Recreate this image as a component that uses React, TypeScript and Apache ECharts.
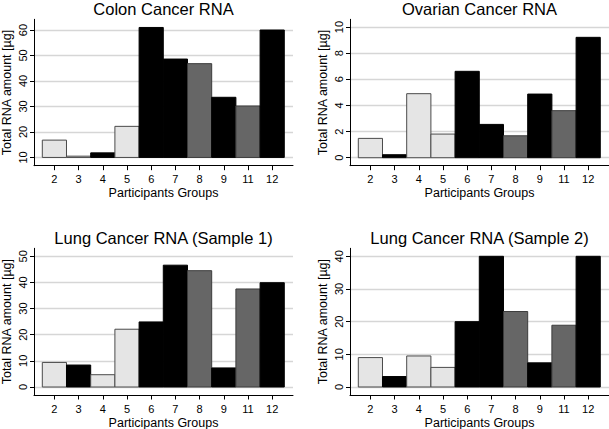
import React, { useEffect, useRef } from 'react';
import * as echarts from 'echarts';

// ---- data ----
const groups = ['2', '3', '4', '5', '6', '7', '8', '9', '11', '12'];
const colonRNA = [16.8, 10.5, 11.8, 22.2, 61.0, 48.6, 46.8, 33.6, 30.2, 60.0];
const ovarianRNA = [1.48, 0.23, 4.9, 1.81, 6.61, 2.55, 1.68, 4.87, 3.6, 9.21];
const lung1RNA = [9.4, 8.4, 4.7, 22.1, 24.9, 46.6, 44.5, 7.3, 37.5, 39.9];
const lung2RNA = [9.0, 3.2, 9.5, 6.0, 20.0, 40.0, 23.1, 7.4, 18.9, 40.0];
const colonGroupType = ['light', 'light', 'black', 'light', 'black', 'black', 'gray', 'black', 'gray', 'black'];
const otherGroupType = ['light', 'black', 'light', 'light', 'black', 'black', 'gray', 'black', 'gray', 'black'];
const colonTicks = [10, 20, 30, 40, 50, 60];
const ovarianTicks = [0, 2, 4, 6, 8, 10];
const lung1Ticks = [0, 10, 20, 30, 40, 50];
const lung2Ticks = [0, 10, 20, 30, 40];
const titles = ['Colon Cancer RNA', 'Ovarian Cancer RNA', 'Lung Cancer RNA (Sample 1)', 'Lung Cancer RNA (Sample 2)'];
const xTitle = 'Participants Groups';
const yTitle = 'Total RNA amount [\u00b5g]';

// ---- styling / layout ----
const FONT = '"Liberation Sans", Arial, Helvetica, sans-serif';
const fills: Record<string, string> = { light: '#e5e5e5', black: '#000000', gray: '#666666' };
const strokes: Record<string, string> = { light: '#4a4a4a', black: '#000000', gray: '#3c3c3c' };

const panels = [
  { title: titles[0], values: colonRNA, types: colonGroupType, ticks: colonTicks, base: 10, yMin: 6.76, yMax: 64.2, left: 34, top: 19.3, height: 146.4, titleY: 0, titleVA: 'top' },
  { title: titles[1], values: ovarianRNA, types: otherGroupType, ticks: ovarianTicks, base: 0, yMin: -0.61, yMax: 10.59, left: 350, top: 19.3, height: 146.4, titleY: 0, titleVA: 'top' },
  { title: titles[2], values: lung1RNA, types: otherGroupType, ticks: lung1Ticks, base: 0, yMin: -3.06, yMax: 53.06, left: 34, top: 248.3, height: 146.7, titleY: 237.8, titleVA: 'middle' },
  { title: titles[3], values: lung2RNA, types: otherGroupType, ticks: lung2Ticks, base: 0, yMin: -2.45, yMax: 42.45, left: 350, top: 248.3, height: 146.7, titleY: 237.8, titleVA: 'middle' },
];
const GRID_W = 259;
const X_MIN = 0.157;
const X_MAX = 10.86;
const positions = groups.map((_, i) => i + 1);

function makeRender(types: string[], base: number) {
  return (params: any, api: any) => {
    const i = api.value(0);
    const v = api.value(1);
    const top = api.coord([i, v]);
    const bottom = api.coord([i, base]);
    const w = api.size([1, 0])[0];
    const t = types[params.dataIndex];
    return {
      type: 'rect',
      shape: { x: top[0] - w / 2, y: top[1], width: w, height: bottom[1] - top[1] },
      style: { fill: fills[t], stroke: strokes[t], lineWidth: 1 },
    };
  };
}

function buildOption() {
  const grid: any[] = [];
  const xAxis: any[] = [];
  const yAxis: any[] = [];
  const series: any[] = [];
  const graphic: any[] = [];
  panels.forEach((p, k) => {
    grid.push({ left: p.left, top: p.top, width: GRID_W, height: p.height, containLabel: false, outerBoundsMode: 'none' });
    xAxis.push({
      type: 'value',
      gridIndex: k,
      min: X_MIN,
      max: X_MAX,
      axisLine: { show: true, onZero: false, lineStyle: { color: '#000', width: 1 } },
      axisTick: { show: true, customValues: positions, length: 4.5, lineStyle: { color: '#000', width: 1 } },
      axisLabel: {
        customValues: positions,
        formatter: (v: number) => groups[Math.round(v) - 1] ?? '',
        fontSize: 11,
        color: '#000',
        margin: 8,
        fontFamily: FONT,
      },
      splitLine: { show: false },
      name: xTitle,
      nameLocation: 'middle',
      nameGap: 21,
      nameTextStyle: { fontSize: 12.5, color: '#000', fontFamily: FONT },
    });
    yAxis.push({
      type: 'value',
      gridIndex: k,
      min: p.yMin,
      max: p.yMax,
      axisLine: { show: true, onZero: false, lineStyle: { color: '#000', width: 1 } },
      axisTick: { show: true, customValues: p.ticks, length: 4, lineStyle: { color: '#000', width: 1 } },
      axisLabel: {
        customValues: p.ticks,
        rotate: 90,
        fontSize: 11,
        color: '#000',
        margin: 6,
        fontFamily: FONT,
      },
      splitLine: { show: true, lineStyle: { color: '#d6d6d6', width: 1.3 } },
      name: yTitle,
      nameLocation: 'middle',
      nameGap: 21,
      nameRotate: 90,
      nameTextStyle: { fontSize: 12.5, color: '#000', fontFamily: FONT },
    });
    series.push({
      type: 'custom',
      xAxisIndex: k,
      yAxisIndex: k,
      coordinateSystem: 'cartesian2d',
      encode: { x: 0, y: 1 },
      data: p.values.map((v, i) => [positions[i], v]),
      renderItem: makeRender(p.types, p.base),
      z: 2,
    });
    graphic.push({
      type: 'text',
      x: p.left + GRID_W / 2,
      y: p.titleY,
      style: { text: p.title, fontSize: 16.5, fill: '#000', align: 'center', verticalAlign: p.titleVA, fontFamily: FONT },
    });
  });
  return { animation: false, backgroundColor: '#fff', grid, xAxis, yAxis, series, graphic };
}

export default function App() {
  const ref = useRef<HTMLDivElement>(null);
  useEffect(() => {
    const chart = echarts.init(ref.current!, null, { renderer: 'svg' });
    chart.setOption(buildOption() as any);
    return () => chart.dispose();
  }, []);
  return (
    <div
      ref={ref}
      style={{ position: 'absolute', left: 0, top: 0, width: 609, height: 429, background: '#fff' }}
    />
  );
}
